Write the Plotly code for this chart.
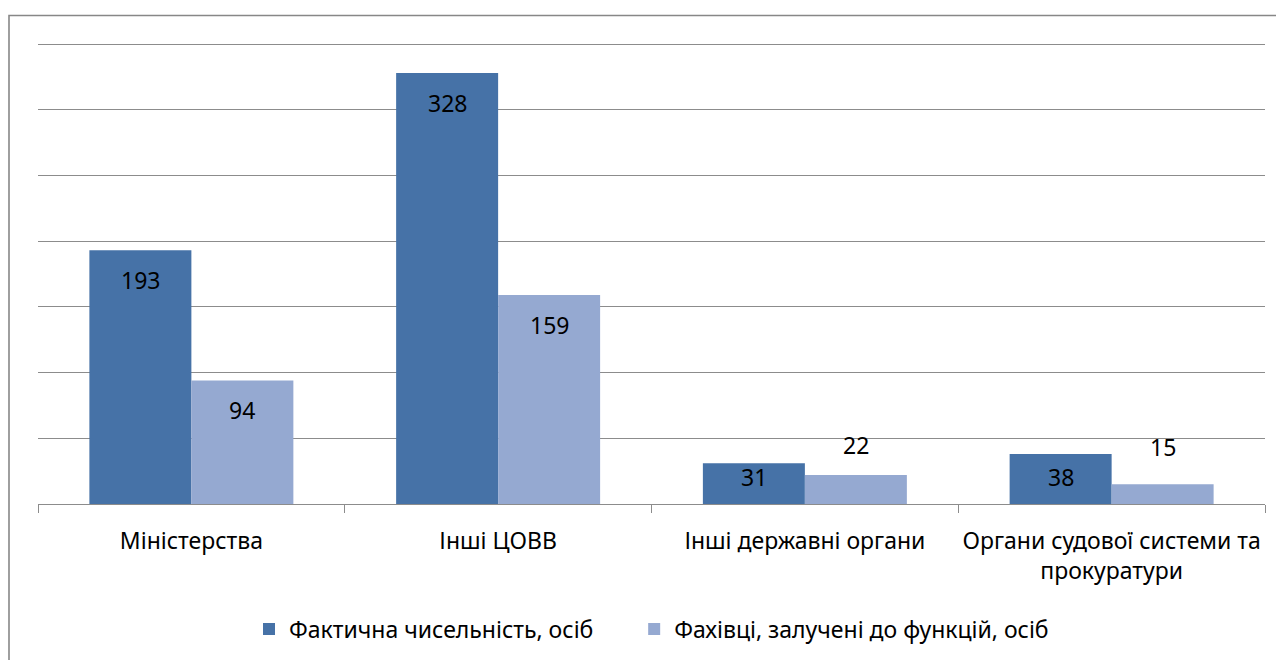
import plotly.graph_objects as go

categories = ["Міністерства", "Інші ЦОВВ", "Інші державні органи", "Органи судової системи та<br>прокуратури"]
series_names = ["Фактична чисельність, осіб", "Фахівці, залучені до функцій, осіб"]
actual = [193, 328, 31, 38]
involved = [94, 159, 22, 15]

DARK = "#4672A7"
LIGHT = "#95A9D1"
GRID = "#8C8C8C"
FONT = "Noto Sans"
FS = 23

BARGAP = 0.335
W, H = 1276, 652          # page body adds an 8px offset
L, R, T, B = 30, 19, 30, 156
plot_h = H - T - B
plot_w = W - L - R
YMAX = 350 * plot_h / 460  # keeps 350 at local y=36
units_per_px = YMAX / plot_h

x_idx = list(range(len(categories)))

fig = go.Figure()
fig.add_trace(go.Bar(x=x_idx, y=actual, name=series_names[0] + "\u00a0" * 6, marker_color=DARK,
                     marker_line_width=0, hoverinfo="skip"))
fig.add_trace(go.Bar(x=x_idx, y=involved, name=series_names[1], marker_color=LIGHT,
                     marker_line_width=0, hoverinfo="skip"))

# data labels
bw = (1 - BARGAP) / 2
annotations = []
for i in x_idx:
    v = actual[i]
    yc = max(v - 30 * units_per_px, 27 * units_per_px)
    annotations.append(dict(x=i - bw / 2, y=yc, xref="x", yref="y", text=str(v),
                            showarrow=False, yanchor="middle",
                            font=dict(family=FONT, size=FS, color="black")))
    v = involved[i]
    if v / units_per_px > 60:
        yc = v - 30 * units_per_px
    else:
        yc = max(v, 20) + 23
    annotations.append(dict(x=i + bw / 2, y=yc, xref="x", yref="y", text=str(v),
                            showarrow=False, yanchor="middle",
                            font=dict(family=FONT, size=FS, color="black")))

fig.update_layout(
    width=W, height=H,
    margin=dict(l=L, r=R, t=T, b=B, autoexpand=False),
    paper_bgcolor="white", plot_bgcolor="white",
    barmode="group", bargap=BARGAP, bargroupgap=0,
    font=dict(family=FONT, size=FS, color="black"),
    showlegend=True,
    legend=dict(orientation="h", xref="container", x=241 / W, xanchor="left",
                yref="container", y=1 - 621 / H, yanchor="middle",
                font=dict(family=FONT, size=FS, color="black"), traceorder="normal",
                itemwidth=30),
    annotations=annotations,
    shapes=[dict(type="rect", xref="paper", yref="paper",
                 x0=(1 - L) / plot_w, x1=(W + 20 - L) / plot_w,
                 y0=-(B + 20) / plot_h, y1=(plot_h + T - 7.5) / plot_h,
                 line=dict(color="#878787", width=1.6), fillcolor="rgba(0,0,0,0)", layer="below")],
)
fig.update_xaxes(
    type="linear", tickmode="array", tickvals=x_idx, ticktext=categories,
    range=[-0.5, len(categories) - 0.5], automargin=False,
    showgrid=False, zeroline=False,
    showline=True, linecolor=GRID, linewidth=1,
    ticks="", ticklabelstandoff=16, tickfont=dict(family=FONT, size=FS, color="black"),
)
fig.update_xaxes(minor=dict(tickmode="array", tickvals=[i - 0.5 for i in range(len(categories) + 1)],
                            ticks="outside", ticklen=8, tickcolor=GRID, tickwidth=1, showgrid=False))
fig.update_yaxes(range=[0, YMAX], dtick=50, tick0=0, showticklabels=False, showgrid=True,
                 automargin=False, gridcolor=GRID, gridwidth=1, zeroline=False, showline=False, ticks="")

fig.write_html("out.html")
